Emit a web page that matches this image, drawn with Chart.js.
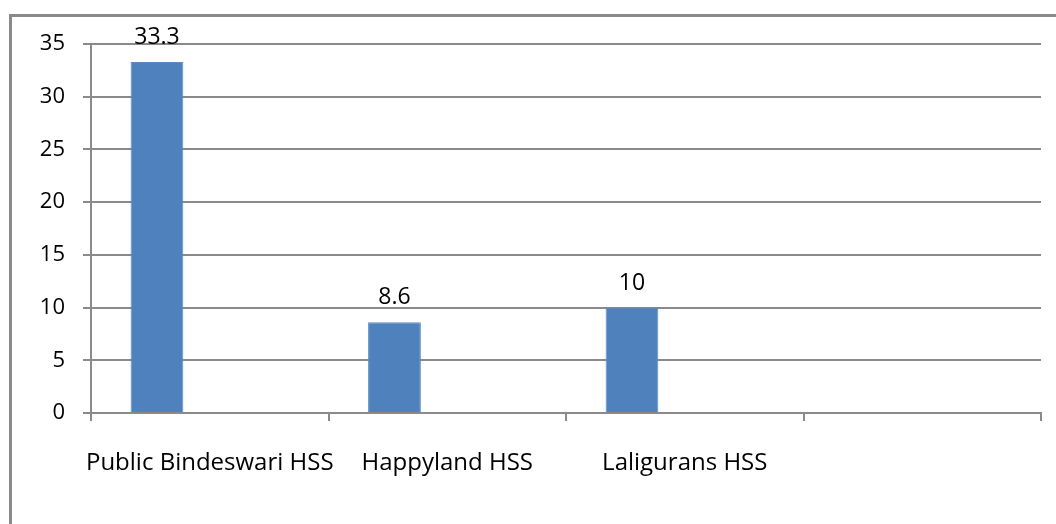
<!DOCTYPE html>
<html>
<head>
<meta charset="utf-8">
<script src="https://cdn.jsdelivr.net/npm/chart.js@4/dist/chart.umd.min.js"></script>
<style>
    body { margin: 0; background: #fff; }
    #wrap { position: relative; width: 1056px; height: 524px; }
</style>
</head>
<body>
<div id="wrap"><canvas id="schoolChart"></canvas></div>
<script>
// data
var categories = ['Public Bindeswari HSS', 'Happyland HSS', 'Laligurans HSS', ''];
var series1 = [33.3, 8.6, 10, null];
var series2 = [null, null, null, null];
var series3 = [null, null, null, null];
var yMax = 35;
var yStep = 5;

var FONT = 'Open Sans';

// grey frame round the whole chart (its right and bottom edges are off the picture)
var framePlugin = {
    id: 'frame',
    beforeDraw: function(chart) {
        var ctx = chart.ctx;
        ctx.save();
        ctx.strokeStyle = '#8a8a8a';
        ctx.lineWidth = 3;
        ctx.strokeRect(10.5, 15.5, 1200, 700);
        ctx.restore();
    }
};

// value labels above the bars of the first series
var valueLabels = {
    id: 'valueLabels',
    afterDatasetsDraw: function(chart) {
        var ctx = chart.ctx;
        var meta = chart.getDatasetMeta(0);
        ctx.save();
        ctx.font = '23px "' + FONT + '"';
        ctx.fillStyle = '#000';
        ctx.textAlign = 'center';
        ctx.textBaseline = 'alphabetic';
        meta.data.forEach(function(bar, i) {
            var v = series1[i];
            if (v === null) return;
            ctx.fillText(String(v), bar.x, bar.y - 18);
        });
        ctx.restore();
    }
};

var ctx = document.getElementById('schoolChart').getContext('2d');
var chart = new Chart(ctx, {
    type: 'bar',
    data: {
        labels: categories,
        datasets: [
            { label: 'Series 1', data: series1, backgroundColor: '#4f81bd', borderColor: '#5a8ac6', borderWidth: 1 },
            { label: 'Series 2', data: series2, backgroundColor: '#c0504d' },
            { label: 'Series 3', data: series3, backgroundColor: '#9bbb59' }
        ]
    },
    options: {
        responsive: true,
        maintainAspectRatio: false,
        animation: false,
        categoryPercentage: 2 / 3,
        barPercentage: 1,
        layout: { padding: { left: 0, top: 44, right: 15, bottom: 0 } },
        plugins: {
            legend: { display: false },
            tooltip: { enabled: false }
        },
        scales: {
            x: {
                grid: {
                    offset: true,
                    drawOnChartArea: false,
                    drawTicks: true,
                    tickLength: 8,
                    color: '#8a8a8a',
                    lineWidth: 2
                },
                border: { color: '#8a8a8a', width: 2 },
                ticks: {
                    color: '#000',
                    font: { family: FONT, size: 24 },
                    padding: 28,
                    maxRotation: 0,
                    minRotation: 0,
                    autoSkip: false
                },
                afterFit: function(scale) { scale.height = 111; }
            },
            y: {
                min: 0,
                max: yMax,
                grid: {
                    color: '#8a8a8a',
                    lineWidth: 2,
                    tickLength: 8
                },
                border: { color: '#8a8a8a', width: 2 },
                ticks: {
                    stepSize: yStep,
                    color: '#000',
                    font: { family: FONT, size: 22 },
                    padding: 18
                },
                afterFit: function(scale) { scale.width = 91; }
            }
        }
    },
    plugins: [framePlugin, valueLabels]
});
</script>
</body>
</html>
